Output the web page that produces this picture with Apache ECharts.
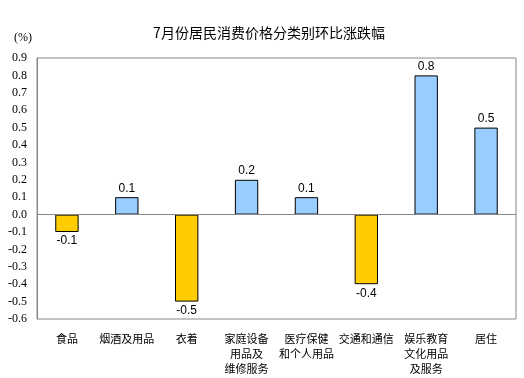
<!DOCTYPE html>
<html><head><meta charset="utf-8">
<script src="https://cdn.jsdelivr.net/npm/echarts@6/dist/echarts.min.js"></script>
<style>html,body{margin:0;padding:0;background:#fff}#c{width:524px;height:378px}</style>
</head><body><div id="c"></div>
<script>
const categories = ['食品','烟酒及用品','衣着','家庭设备\n用品及\n维修服务','医疗保健\n和个人用品','交通和通信','娱乐教育\n文化用品\n及服务','居住'];
const values = [-0.1, 0.1, -0.5, 0.2, 0.1, -0.4, 0.8, 0.5];
const titleText = '7月份居民消费价格分类别环比涨跌幅';
const unitText = '(%)';
const yMin = -0.6, yMax = 0.9, yStep = 0.1;

const chart = echarts.init(document.getElementById('c'));
chart.setOption({
  animation: false,
  backgroundColor: '#fff',
  title: [{
    text: titleText, left: 264, top: 21, textAlign: 'center',
    textStyle: {fontFamily: 'Noto Sans CJK SC', fontSize: 14, fontWeight: 'normal', color: '#000'}
  },{
    text: unitText, left: 9, top: 27,
    textStyle: {fontFamily: 'Liberation Serif', fontSize: 12, fontWeight: 'normal', color: '#000'}
  }],
  grid: {left: 37, right: 8, top: 58, bottom: 59, show: true, borderColor: '#888', borderWidth: 1},
  xAxis: {
    type: 'category', data: categories,
    axisLine: {show: false, onZero: false}, axisTick: {show: false},
    axisLabel: {fontFamily: 'Noto Sans CJK SC', fontSize: 11, color: '#000', margin: 12, lineHeight: 15, interval: 0}
  },
  yAxis: {
    type: 'value', min: yMin, max: yMax, interval: yStep,
    axisLine: {show: true, lineStyle: {color: '#888'}}, axisTick: {show: false},
    splitLine: {show: false},
    axisLabel: {fontFamily: 'Liberation Serif', fontSize: 12, color: '#000', margin: 10,
      formatter: v => (Math.round(v*10)/10).toFixed(1)}
  },
  series: [{
    type: 'bar', barWidth: '39%',
    data: values.map(v => ({
      value: v,
      itemStyle: {color: v < 0 ? '#FFCC00' : '#99CCFF', borderColor: '#000', borderWidth: 1},
      label: {position: v < 0 ? 'bottom' : 'top'}
    })),
    label: {show: true, fontFamily: 'Liberation Sans', fontSize: 12, color: '#000', distance: 3,
      formatter: p => p.value.toFixed(1)},
    markLine: {silent: true, symbol: 'none', label: {show: false},
      lineStyle: {color: '#888', type: 'solid', width: 1}, data: [{yAxis: 0}]}
  }]
});
</script></body></html>
